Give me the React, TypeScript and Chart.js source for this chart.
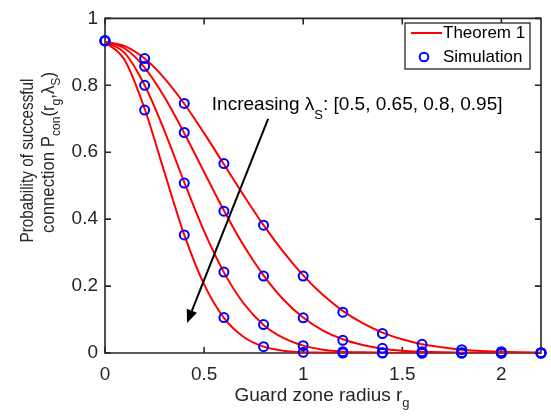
import React, { useEffect, useRef } from "react";
import { Chart, registerables } from "chart.js";

Chart.register(...registerables);

// ---------- data ----------
const xTheory = [0, 0.1, 0.2, 0.3, 0.4, 0.5, 0.6, 0.7, 0.8, 0.9, 1.0, 1.1, 1.2, 1.3, 1.4, 1.5, 1.6, 1.7, 1.8, 1.9, 2.0, 2.1, 2.2];
const theory050 = [0.93, 0.917, 0.88, 0.821, 0.745, 0.657, 0.564, 0.471, 0.382, 0.302, 0.232, 0.173, 0.126, 0.089, 0.061, 0.041, 0.026, 0.017, 0.01, 0.006, 0.004, 0.002, 0.001];
const theory065 = [0.93, 0.91, 0.853, 0.765, 0.657, 0.541, 0.426, 0.321, 0.232, 0.16, 0.106, 0.067, 0.041, 0.024, 0.013, 0.007, 0.004, 0.002, 0.001, 0, 0, 0, 0];
const theory080 = [0.93, 0.896, 0.8, 0.664, 0.51, 0.364, 0.241, 0.148, 0.084, 0.045, 0.022, 0.01, 0.004, 0.002, 0.001, 0, 0, 0, 0, 0, 0, 0, 0];
const theory095 = [0.93, 0.875, 0.73, 0.54, 0.353, 0.205, 0.105, 0.048, 0.019, 0.007, 0.002, 0.001, 0, 0, 0, 0, 0, 0, 0, 0, 0, 0, 0];

const xSim = [0, 0.2, 0.4, 0.6, 0.8, 1.0, 1.2, 1.4, 1.6, 1.8, 2.0, 2.2];
const sim050 = [0.933, 0.88, 0.746, 0.566, 0.382, 0.23, 0.122, 0.058, 0.026, 0.01, 0.004, 0.001];
const sim065 = [0.933, 0.857, 0.659, 0.424, 0.23, 0.105, 0.038, 0.014, 0.004, 0.001, 0, 0];
const sim080 = [0.933, 0.8, 0.508, 0.242, 0.085, 0.022, 0.004, 0.001, 0, 0, 0, 0];
const sim095 = [0.933, 0.726, 0.353, 0.106, 0.019, 0.002, 0, 0, 0, 0, 0, 0];

const xTicks = [0, 0.5, 1, 1.5, 2];
const yTicks = [0, 0.2, 0.4, 0.6, 0.8, 1];
const lambdaLabels = ["0.5", "0.65", "0.8", "0.95"];

const legendTheory = "Theorem 1";
const legendSim = "Simulation";

// ---------- style ----------
const FONT = "'Liberation Sans', Arial, Helvetica, sans-serif";
const AXIS = "#262626";
const RED = "#ff0000";
const BLUE = "#0000ff";

type Part = { t: string; sub?: boolean };

function partsWidth(ctx: CanvasRenderingContext2D, parts: Part[], size: number, subSize: number) {
  let w = 0;
  for (const p of parts) {
    ctx.font = `${p.sub ? subSize : size}px ${FONT}`;
    w += ctx.measureText(p.t).width;
  }
  return w;
}

function drawParts(ctx: CanvasRenderingContext2D, parts: Part[], x: number, y: number, size: number, subSize: number, subDy: number) {
  let cx = x;
  for (const p of parts) {
    ctx.font = `${p.sub ? subSize : size}px ${FONT}`;
    ctx.fillText(p.t, cx, y + (p.sub ? subDy : 0));
    cx += ctx.measureText(p.t).width;
  }
}

const zip = (xs: number[], ys: number[]) => xs.map((x, i) => ({ x, y: ys[i] }));

const decorPlugin = {
  id: "decor",
  beforeDatasetsDraw(chart: any) {
    const ctx: CanvasRenderingContext2D = chart.ctx;
    const { left, right, top, bottom } = chart.chartArea;
    const xs = chart.scales.x;
    const ys = chart.scales.y;
    ctx.save();
    ctx.strokeStyle = AXIS;
    ctx.lineWidth = 1.6;
    ctx.beginPath();
    ctx.rect(left, top, right - left, bottom - top);
    ctx.stroke();
    ctx.beginPath();
    const tl = 6;
    for (const v of xTicks) {
      const px = xs.getPixelForValue(v);
      ctx.moveTo(px, bottom);
      ctx.lineTo(px, bottom - tl);
      ctx.moveTo(px, top);
      ctx.lineTo(px, top + tl);
    }
    for (const v of yTicks) {
      const py = ys.getPixelForValue(v);
      ctx.moveTo(left, py);
      ctx.lineTo(left + tl, py);
      ctx.moveTo(right, py);
      ctx.lineTo(right - tl, py);
    }
    ctx.stroke();
    ctx.restore();
  },
  afterDatasetsDraw(chart: any) {
    const ctx: CanvasRenderingContext2D = chart.ctx;
    const xs = chart.scales.x;
    const ys = chart.scales.y;
    ctx.save();

    // annotation text
    ctx.fillStyle = "#000000";
    ctx.textBaseline = "alphabetic";
    ctx.textAlign = "left";
    const ann: Part[] = [
      { t: "Increasing " },
      { t: "λ" },
      { t: "S", sub: true },
      { t: ": [" + lambdaLabels.join(", ") + "]" },
    ];
    drawParts(ctx, ann, xs.getPixelForValue(0.539), ys.getPixelForValue(0.726), 19, 13, 9);

    // arrow
    const sx = xs.getPixelForValue(0.823), sy = ys.getPixelForValue(0.70);
    const ex = xs.getPixelForValue(0.414), ey = ys.getPixelForValue(0.09);
    const dx = ex - sx, dy = ey - sy;
    const len = Math.hypot(dx, dy);
    const ux = dx / len, uy = dy / len;
    const hl = 13, hw = 5.5;
    const bx = ex - ux * hl, by = ey - uy * hl;
    ctx.strokeStyle = "#000000";
    ctx.lineWidth = 2;
    ctx.beginPath();
    ctx.moveTo(sx, sy);
    ctx.lineTo(bx, by);
    ctx.stroke();
    ctx.fillStyle = "#000000";
    ctx.beginPath();
    ctx.moveTo(ex, ey);
    ctx.lineTo(bx - uy * hw, by + ux * hw);
    ctx.lineTo(bx + uy * hw, by - ux * hw);
    ctx.closePath();
    ctx.fill();

    // legend
    ctx.fillStyle = "#ffffff";
    ctx.fillRect(405, 23, 125, 46);
    ctx.strokeStyle = AXIS;
    ctx.lineWidth = 1.3;
    ctx.strokeRect(405, 23, 125, 46);
    ctx.strokeStyle = RED;
    ctx.lineWidth = 2;
    ctx.beginPath();
    ctx.moveTo(411, 33);
    ctx.lineTo(442, 33);
    ctx.stroke();
    ctx.strokeStyle = BLUE;
    ctx.beginPath();
    ctx.arc(424, 57, 4.3, 0, Math.PI * 2);
    ctx.stroke();
    ctx.fillStyle = "#000000";
    ctx.font = `17px ${FONT}`;
    ctx.textBaseline = "middle";
    ctx.fillText(legendTheory, 443, 33.5);
    ctx.fillText(legendSim, 443, 57.5);

    // x axis title
    ctx.fillStyle = AXIS;
    ctx.textBaseline = "alphabetic";
    const xt: Part[] = [{ t: "Guard zone radius r" }, { t: "g", sub: true }];
    const xw = partsWidth(ctx, xt, 19, 13);
    drawParts(ctx, xt, 322 - xw / 2, 401, 19, 13, 6);

    // y axis title (two lines, rotated)
    const l1: Part[] = [{ t: "Probability of successful" }];
    const l2: Part[] = [
      { t: "connection P" },
      { t: "con", sub: true },
      { t: "(r" },
      { t: "g", sub: true },
      { t: ",λ" },
      { t: "S", sub: true },
      { t: ")" },
    ];
    const drawRot = (parts: Part[], bx0: number, cy: number, target: number) => {
      const w = partsWidth(ctx, parts, 18, 13);
      const k = target / w;
      ctx.save();
      ctx.translate(bx0, cy);
      ctx.rotate(-Math.PI / 2);
      ctx.scale(k, 1);
      drawParts(ctx, parts, -w / 2, 0, 18, 13, 6);
      ctx.restore();
    };
    drawRot(l1, 32.5, 160.5, 164);
    drawRot(l2, 53.5, 152.5, 161);

    ctx.restore();
  },
};

export default function App() {
  const ref = useRef<HTMLCanvasElement | null>(null);
  useEffect(() => {
    if (!ref.current) return;
    const lineDs = (data: number[]) => ({
      type: "line" as const,
      data: zip(xTheory, data),
      borderColor: RED,
      borderWidth: 2,
      pointRadius: 0,
      fill: false,
      cubicInterpolationMode: "monotone" as const,
      order: 2,
    });
    const simDs = (data: number[]) => ({
      type: "scatter" as const,
      data: zip(xSim, data),
      borderColor: BLUE,
      backgroundColor: "rgba(0,0,0,0)",
      borderWidth: 2,
      pointRadius: 4.5,
      pointStyle: "circle",
      showLine: false,
      clip: false as any,
      order: 1,
    });
    const chart = new Chart(ref.current, {
      type: "scatter",
      data: {
        datasets: [
          simDs(sim050),
          simDs(sim065),
          simDs(sim080),
          simDs(sim095),
          lineDs(theory050),
          lineDs(theory065),
          lineDs(theory080),
          lineDs(theory095),
        ] as any,
      },
      options: {
        responsive: false,
        animation: false,
        layout: { padding: { top: 10, right: 10, left: 0, bottom: 0 } },
        plugins: { legend: { display: false }, tooltip: { enabled: false }, title: { display: false } },
        scales: {
          x: {
            type: "linear",
            min: 0,
            max: 2.2,
            grid: { display: false, drawTicks: false },
            border: { display: false },
            afterBuildTicks: (s: any) => {
              s.ticks = xTicks.map((v) => ({ value: v }));
            },
            afterFit: (s: any) => {
              s.height = 63;
            },
            ticks: {
              color: AXIS,
              font: { family: FONT, size: 19 },
              padding: 10,
              maxRotation: 0,
              autoSkip: false,
              callback: (v: any) => String(Math.round(Number(v) * 10) / 10),
            },
          },
          y: {
            type: "linear",
            min: 0,
            max: 1,
            grid: { display: false, drawTicks: false },
            border: { display: false },
            afterBuildTicks: (s: any) => {
              s.ticks = yTicks.map((v) => ({ value: v }));
            },
            afterFit: (s: any) => {
              s.width = 105;
            },
            ticks: {
              color: AXIS,
              font: { family: FONT, size: 19 },
              padding: 7,
              autoSkip: false,
              callback: (v: any) => String(Math.round(Number(v) * 10) / 10),
            },
          },
        },
      },
      plugins: [decorPlugin],
    });
    return () => chart.destroy();
  }, []);
  return (
    <div style={{ position: "fixed", left: 0, top: 0, width: 551, height: 416, background: "#ffffff" }}>
      <canvas ref={ref} width={551} height={416} style={{ display: "block", width: 551, height: 416 }} />
    </div>
  );
}
